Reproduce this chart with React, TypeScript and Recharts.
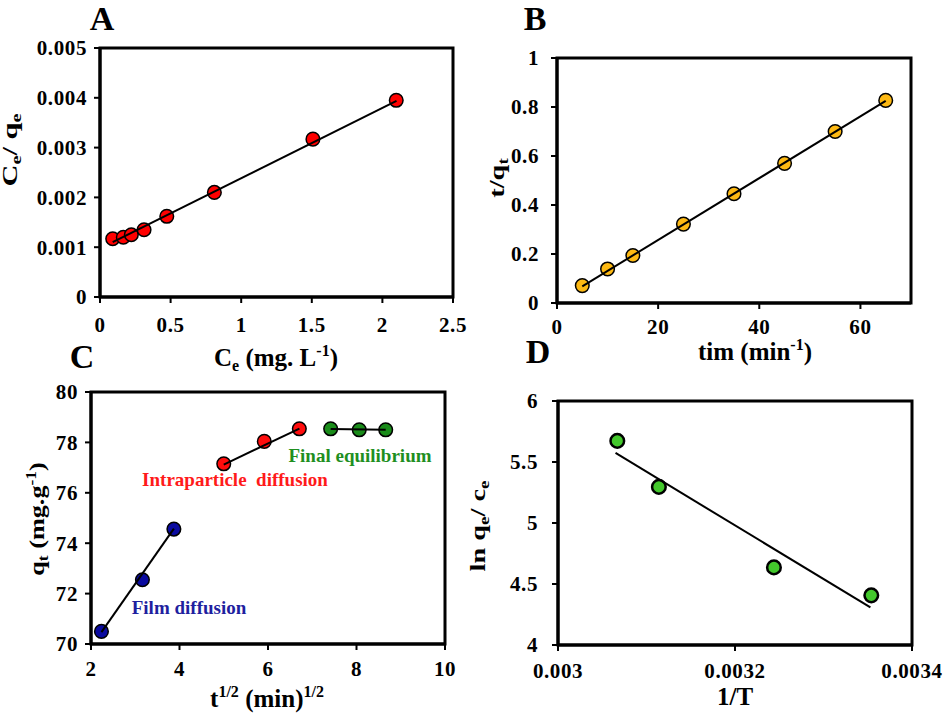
import React from "react";
import { ScatterChart, Scatter, XAxis, YAxis, ReferenceArea } from "recharts";

// Panel A: Langmuir isotherm
const ceA = [0.09, 0.165, 0.222, 0.312, 0.473, 0.81, 1.508, 2.098];
const ceqeA = [0.00117, 0.0012, 0.00125, 0.00135, 0.00162, 0.0021, 0.00317, 0.00395];
const fitXA = [0.09, 2.1];
const fitYA = [0.0011, 0.00394];
const xTicksA = [0, 0.5, 1, 1.5, 2, 2.5];
const yTicksA = [0, 0.001, 0.002, 0.003, 0.004, 0.005];

// Panel B: pseudo second order
const timeB = [5, 10, 15, 25, 35, 45, 55, 65];
const tqtB = [0.071, 0.139, 0.194, 0.322, 0.446, 0.57, 0.7, 0.827];
const fitXB = [5, 65];
const fitYB = [0.068, 0.825];
const xTicksB = [0, 20, 40, 60];
const yTicksB = [0, 0.2, 0.4, 0.6, 0.8, 1];

// Panel C: intraparticle diffusion
const filmX = [2.236, 3.162, 3.873];
const filmY = [70.5, 72.55, 74.56];
const intraX = [5, 5.916, 6.708];
const intraY = [77.15, 78.04, 78.54];
const finalX = [7.416, 8.062, 8.66];
const finalY = [78.54, 78.5, 78.5];
const fitFilmX = [2.236, 3.873];
const fitFilmY = [70.47, 74.58];
const fitIntraX = [5, 6.71];
const fitIntraY = [77.12, 78.55];
const fitFinalX = [7.416, 8.66];
const fitFinalY = [78.53, 78.5];
const xTicksC = [2, 4, 6, 8, 10];
const yTicksC = [70, 72, 74, 76, 78, 80];

// Panel D: van't Hoff
const invT = [0.003067, 0.003114, 0.003244, 0.003354];
const lnKD = [5.673, 5.296, 4.636, 4.407];
const fitXD = [0.003065, 0.003353];
const fitYD = [5.574, 4.308];
const xTicksD = [0.003, 0.0032, 0.0034];
const yTicksD = [4, 4.5, 5, 5.5, 6];

const FONT = "Liberation Serif";

const pts = (xs: number[], ys: number[]) => xs.map((x, i) => ({ x, y: ys[i] }));

const noShape = () => <g />;

const dot = (fill: string, r: number, sw: number) => (p: any) => (
  <circle cx={p.cx} cy={p.cy} r={r} fill={fill} stroke="#000" strokeWidth={sw} />
);

interface Series {
  data: { x: number; y: number }[];
  fill: string;
  r?: number;
  sw?: number;
}

interface PanelProps {
  left: number;
  top: number;
  width: number;
  height: number;
  margin: { top: number; right: number; left: number; bottom: number };
  yWidth: number;
  xHeight: number;
  xDomain: [number, number];
  yDomain: [number, number];
  xTicks: number[];
  yTicks: number[];
  xTickMargin: number;
  yTickMargin: number;
  series: Series[];
  fits: { x: number; y: number }[][];
}

function Panel(props: PanelProps) {
  const tickStyle = { fill: "#000", fontSize: 21, fontWeight: "bold", fontFamily: FONT, letterSpacing: 0.6 };
  return (
    <div style={{ position: "absolute", left: props.left, top: props.top }}>
      <ScatterChart width={props.width} height={props.height} margin={props.margin}>
        <XAxis
          type="number"
          dataKey="x"
          domain={props.xDomain}
          ticks={props.xTicks}
          allowDataOverflow
          height={props.xHeight}
          tick={tickStyle}
          tickSize={6}
          tickMargin={props.xTickMargin}
          axisLine={{ stroke: "#000", strokeWidth: 3 }}
          tickLine={{ stroke: "#000", strokeWidth: 2 }}
        />
        <YAxis
          type="number"
          dataKey="y"
          domain={props.yDomain}
          ticks={props.yTicks}
          allowDataOverflow
          width={props.yWidth}
          tick={tickStyle}
          tickSize={6}
          tickMargin={props.yTickMargin}
          axisLine={{ stroke: "#000", strokeWidth: 3 }}
          tickLine={{ stroke: "#000", strokeWidth: 2 }}
        />
        <ReferenceArea
          x1={props.xDomain[0]}
          x2={props.xDomain[1]}
          y1={props.yDomain[0]}
          y2={props.yDomain[1]}
          fill="none"
          stroke="#000"
          strokeWidth={3}
        />
        {props.series.map((s, i) => (
          <Scatter
            key={`s-${i}`}
            data={s.data}
            isAnimationActive={false}
            shape={dot(s.fill, s.r ?? 6.8, s.sw ?? 1.5)}
          />
        ))}
        {props.fits.map((f, i) => (
          <Scatter
            key={`f-${i}`}
            data={f}
            isAnimationActive={false}
            line={{ stroke: "#000", strokeWidth: 2 }}
            shape={noShape}
          />
        ))}
      </ScatterChart>
    </div>
  );
}

function YTitle({ x, y, s, children }: { x: number; y: number; s: number; children: React.ReactNode }) {
  return (
    <text
      transform={`translate(${x},${y}) rotate(-90) scale(${s},1)`}
      textAnchor="middle"
      fontSize={21}
      fontWeight="bold"
      fontFamily={FONT}
      fill="#000"
    >
      {children}
    </text>
  );
}

export default function App() {
  const titleProps = { fontSize: 25, fontWeight: "bold" as const, fontFamily: FONT, fill: "#000", textAnchor: "middle" as const };
  const letterProps = { fontSize: 34, fontWeight: "bold" as const, fontFamily: FONT, fill: "#000", textAnchor: "middle" as const };
  const noteProps = { fontSize: 19, fontWeight: "bold" as const, fontFamily: FONT, textAnchor: "middle" as const };
  return (
    <div style={{ position: "absolute", left: 0, top: 0, width: 945, height: 719, background: "#fff" }}>
      <Panel
        left={0}
        top={0}
        width={470}
        height={340}
        margin={{ top: 48, right: 17, left: 0, bottom: 0 }}
        yWidth={100}
        xHeight={43}
        xDomain={[0, 2.5]}
        yDomain={[0, 0.005]}
        xTicks={xTicksA}
        yTicks={yTicksA}
        xTickMargin={14}
        yTickMargin={7}
        series={[{ data: pts(ceA, ceqeA), fill: "#ff0000" }]}
        fits={[pts(fitXA, fitYA)]}
      />
      <Panel
        left={470}
        top={0}
        width={475}
        height={340}
        margin={{ top: 58, right: 34, left: 0, bottom: 0 }}
        yWidth={87}
        xHeight={37}
        xDomain={[0, 70]}
        yDomain={[0, 1]}
        xTicks={xTicksB}
        yTicks={yTicksB}
        xTickMargin={10}
        yTickMargin={12}
        series={[{ data: pts(timeB, tqtB), fill: "#fdb913" }]}
        fits={[pts(fitXB, fitYB)]}
      />
      <Panel
        left={0}
        top={340}
        width={470}
        height={379}
        margin={{ top: 52, right: 25, left: 0, bottom: 0 }}
        yWidth={91}
        xHeight={75}
        xDomain={[2, 10]}
        yDomain={[70, 80]}
        xTicks={xTicksC}
        yTicks={yTicksC}
        xTickMargin={11}
        yTickMargin={7}
        series={[
          { data: pts(filmX, filmY), fill: "#0a0aa0" },
          { data: pts(intraX, intraY), fill: "#ff0d0d" },
          { data: pts(finalX, finalY), fill: "#1a8c1a" },
        ]}
        fits={[pts(fitFilmX, fitFilmY), pts(fitIntraX, fitIntraY), pts(fitFinalX, fitFinalY)]}
      />
      <Panel
        left={470}
        top={340}
        width={475}
        height={379}
        margin={{ top: 61, right: 33, left: 0, bottom: 0 }}
        yWidth={88}
        xHeight={74}
        xDomain={[0.003, 0.0034]}
        yDomain={[4, 6]}
        xTicks={xTicksD}
        yTicks={yTicksD}
        xTickMargin={12}
        yTickMargin={14}
        series={[{ data: pts(invT, lnKD), fill: "#43c82c", r: 6.8, sw: 2.5 }]}
        fits={[pts(fitXD, fitYD)]}
      />
      <svg
        width={945}
        height={719}
        style={{ position: "absolute", left: 0, top: 0, pointerEvents: "none" }}
      >
        <text x={102} y={30} {...letterProps}>A</text>
        <text x={535} y={30} {...letterProps}>B</text>
        <text x={82} y={368} {...letterProps}>C</text>
        <text x={538} y={363} {...letterProps}>D</text>

        <text x={276} y={366} {...titleProps}>
          C<tspan fontSize={16} dy={5}>e</tspan>
          <tspan dy={-5}> (mg. L</tspan>
          <tspan fontSize={16} dy={-10}>-1</tspan>
          <tspan dy={10}>)</tspan>
        </text>
        <text x={755} y={360} {...titleProps}>
          tim (min<tspan fontSize={16} dy={-10}>-1</tspan>
          <tspan dy={10}>)</tspan>
        </text>
        <text x={267} y={707} {...titleProps}>
          t<tspan fontSize={16} dy={-10}>1/2</tspan>
          <tspan dy={10}> (min)</tspan>
          <tspan fontSize={16} dy={-10}>1/2</tspan>
        </text>
        <text x={735} y={705} {...titleProps}>1/T</text>

        <YTitle x={17} y={150} s={1.45}>
          C<tspan fontSize={14} dy={4}>e</tspan>
          <tspan dy={-4}>/ q</tspan>
          <tspan fontSize={14} dy={4}>e</tspan>
        </YTitle>
        <YTitle x={504} y={178} s={1.35}>
          t/q<tspan fontSize={14} dy={4}>t</tspan>
        </YTitle>
        <YTitle x={44} y={519} s={1.25}>
          q<tspan fontSize={14} dy={4}>t</tspan>
          <tspan dy={-4}> (mg.g</tspan>
          <tspan fontSize={14} dy={-8}>-1</tspan>
          <tspan dy={8}>)</tspan>
        </YTitle>
        <YTitle x={485} y={526} s={1.35}>
          ln q<tspan fontSize={14} dy={4}>e</tspan>
          <tspan dy={-4}>/ c</tspan>
          <tspan fontSize={14} dy={4}>e</tspan>
        </YTitle>

        <text x={235} y={486} fill="#ff1a1a" {...noteProps} xmlSpace="preserve">
          Intraparticle  diffusion
        </text>
        <text x={360} y={462} fill="#1f8f1f" {...noteProps}>Final equilibrium</text>
        <text x={189} y={614} fill="#1f1f9f" {...noteProps}>Film diffusion</text>
      </svg>
    </div>
  );
}
